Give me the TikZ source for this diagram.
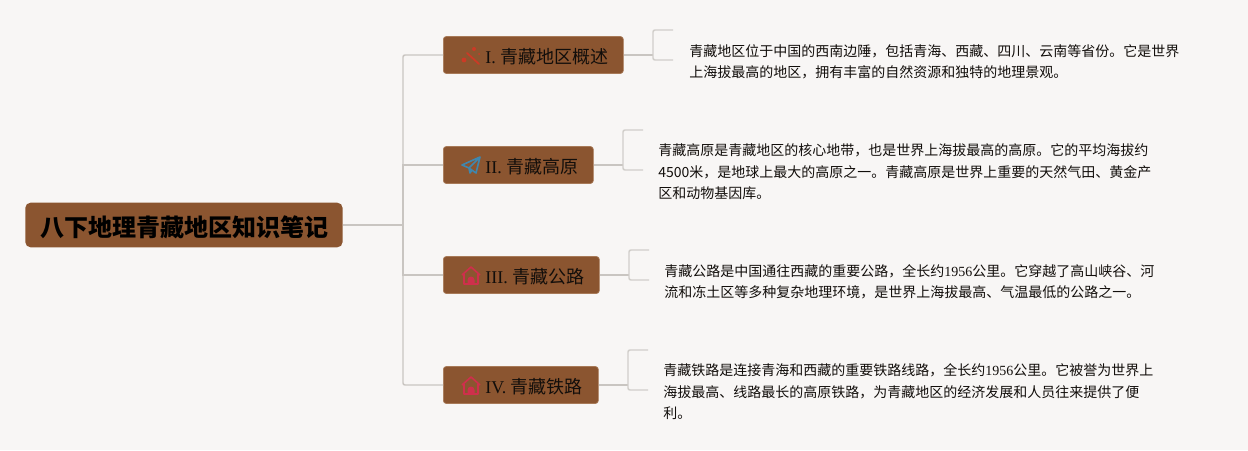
\documentclass[tikz,border=0pt]{standalone}
\usepackage{fontspec}
\setmainfont{Liberation Serif}
\newfontfamily\cjk{Noto Sans CJK SC}
\definecolor{bgc}{HTML}{F8F6F5}
\definecolor{brown}{HTML}{8B5530}
\definecolor{brownedge}{HTML}{A87A58}
\definecolor{linec}{HTML}{C9C5C1}
\definecolor{txt}{HTML}{120E0B}
\definecolor{iconred}{HTML}{CC3A26}
\definecolor{iconblue}{HTML}{3F87AE}
\definecolor{iconpink}{HTML}{CF2F4C}
\tikzset{
 px/.style={x=0.75pt,y=-0.75pt},
 topicbox/.style={fill=brown,draw=brownedge,line width=.5pt,rounded corners=2.2pt,minimum height=27.75pt,anchor=west,inner sep=0pt},
 topiclabel/.style={text=txt,anchor=west,inner sep=0pt,font=\fontsize{13.5}{16}\selectfont},
 rootbox/.style={fill=brown,rounded corners=4pt,minimum height=33.5pt,minimum width=238pt,anchor=west,inner sep=0pt},
 conn/.style={draw=linec,line width=1.1pt},
 bracket/.style={draw=linec!85!white,line width=1.1pt,rounded corners=1.5pt},
 desc/.style={anchor=west,align=left,inner sep=0pt,text=txt,font=\fontsize{10.5}{16.1}\selectfont},
}
\begin{document}
\begin{tikzpicture}[px]
\useasboundingbox (0,0) rectangle (1248,450);
\fill[bgc] (0,0) rectangle (1248,450);
\node[rootbox] (root) at (25,225) {};
\node[text=black,font=\cjk\fontsize{18}{20}\selectfont\bfseries] (roott) at (184.5,227) {八下地理青藏地区知识笔记};
\node[topicbox,minimum width=135pt] (t1) at (443,55) {};
\node[topicbox,minimum width=112.5pt] (t2) at (443,165) {};
\node[topicbox,minimum width=117pt] (t3) at (443,275) {};
\node[topicbox,minimum width=116.25pt] (t4) at (443,385) {};
\coordinate (j) at (403,225);
\draw[conn] (root.east) -- (j);
\draw[conn,rounded corners=1.5pt] (t1.west) -| (j) |- (t4.west);
\draw[conn] (j) |- (t2.west);
\draw[conn] (j) |- (t3.west);
% topic labels
\node[topiclabel] (l1) at (485,57) {I. {\cjk 青藏地区概述}};
\node[topiclabel] (l2) at (485,167) {II. {\cjk 青藏高原}};
\node[topiclabel] (l3) at (485,277) {III. {\cjk 青藏公路}};
\node[topiclabel] (l4) at (485,387) {IV. {\cjk 青藏铁路}};
% icons
\begin{scope}[shift={(471,56)}]
\draw[iconred,line width=1.3pt,line cap=round] (-4,-3) -- (8,8);
\fill[iconred] (-7,4) circle (2.4);
\fill[iconred] (3,-7) circle (2);
\fill[iconred] (8,-2) circle (1);
\end{scope}
\begin{scope}[shift={(471,165)}]
\draw[iconblue,line width=1.2pt,line join=round] (-9,0) -- (9,-8) -- (5,8) -- (-2,3) -- cycle (9,-8) -- (-2,3) -- (-1,8) -- (1,5);
\end{scope}
\foreach \yy in {276,386}{
\begin{scope}[shift={(471,\yy)}]
\draw[iconpink,line width=1.2pt,line join=round] (-9,-1) -- (0,-9) -- (9,-1) (-7,-2) -- (-7,8) -- (7,8) -- (7,-2);
\fill[iconpink] (-3.5,8) -- (-3.5,4) arc (180:360:3.5) -- (3.5,8) -- cycle;
\end{scope}}
% brackets
\coordinate (b1a) at (673,30); \coordinate (b1b) at (673,60);
\coordinate (b2a) at (643,130); \coordinate (b2b) at (643,170);
\coordinate (b3a) at (649,250); \coordinate (b3b) at (649,280);
\coordinate (b4a) at (648,350); \coordinate (b4b) at (648,390);
\draw[conn] (t1.east) -- (653,55);
\draw[conn] (t2.east) -- (623,165);
\draw[conn] (t3.east) -- (629,275);
\draw[conn] (t4.east) -- (628,385);
\draw[bracket] (b1a) -- (653,30) -- (653,60) -- (b1b);
\draw[bracket] (b2a) -- (623,130) -- (623,170) -- (b2b);
\draw[bracket] (b3a) -- (629,250) -- (629,280) -- (b3b);
\draw[bracket] (b4a) -- (628,350) -- (628,390) -- (b4b);
% descriptions
\node[desc] (d1) at (689,62) {\cjk 青藏地区位于中国的西南边陲，包括青海、西藏、四川、云南等省份。它是世界\\\cjk 上海拔最高的地区，拥有丰富的自然资源和独特的地理景观。};
\node[desc] (d2) at (658,172) {\cjk 青藏高原是青藏地区的核心地带，也是世界上海拔最高的高原。它的平均海拔约\\{\cjk 4500米，是地球上最大的高原之一。青藏高原是世界上重要的天然气田、黄金产}\\\cjk 区和动物基因库。};
\node[desc] (d3) at (664,282) {\cjk 青藏公路是中国通往西藏的重要公路，全长约{\rmfamily 1956}公里。它穿越了高山峡谷、河\\\cjk 流和冻土区等多种复杂地理环境，是世界上海拔最高、气温最低的公路之一。};
\node[desc] (d4) at (663,392) {\cjk 青藏铁路是连接青海和西藏的重要铁路线路，全长约{\rmfamily 1956}公里。它被誉为世界上\\\cjk 海拔最高、线路最长的高原铁路，为青藏地区的经济发展和人员往来提供了便\\\cjk 利。};
\end{tikzpicture}
\end{document}
